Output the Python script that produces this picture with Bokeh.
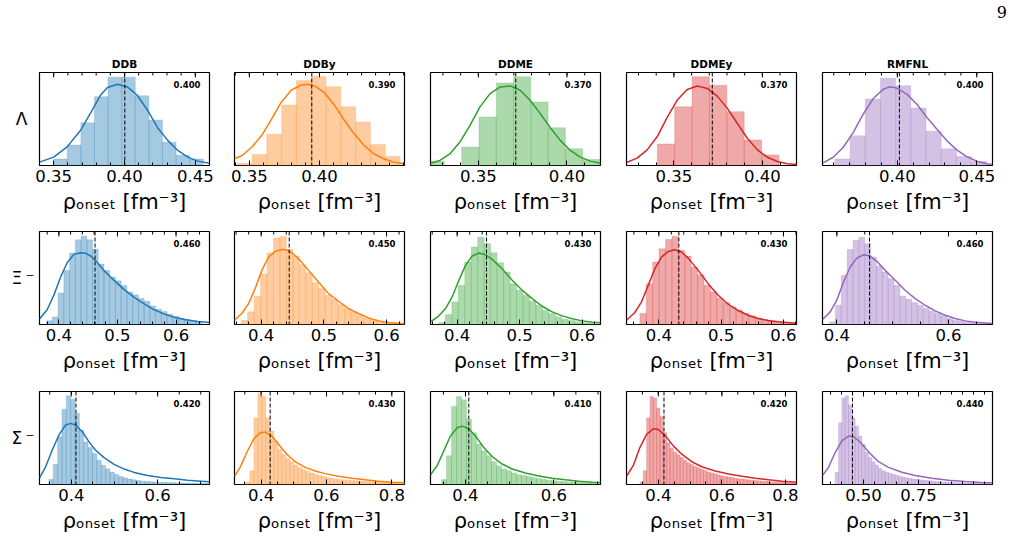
import numpy as np
from bokeh.plotting import figure
from bokeh.layouts import row, column
from bokeh.models import (Div, FixedTicker, Range1d, Span, Label, PrintfTickFormatter)
from bokeh.embed import file_html
from bokeh.resources import INLINE

# ---------------- data ----------------
models = ["DDB", "DDBy", "DDME", "DDMEy", "RMFNL"]
hyperons = ["Λ", "Ξ\u2009⁻", "Σ\u2009⁻"]
colors = ["#1f77b4", "#ff7f0e", "#2ca02c", "#d62728", "#9467bd"]

# axis limits
lam_xlim = [(0.340, 0.460), (0.3394, 0.4606), (0.323, 0.4189), (0.3232, 0.4193), (0.3529, 0.4599)]
xi_xlim = [(0.3669, 0.6571), (0.3574, 0.6287), (0.3573, 0.6293), (0.3481, 0.6209), (0.3743, 0.6788)]
sig_xlim = [(0.3264, 0.7202), (0.3184, 0.8388), (0.3208, 0.7057), (0.300, 0.8347), (0.3136, 1.0864)]

# tick values and formats
lam_ticks = [[0.35, 0.40, 0.45], [0.35, 0.40], [0.35, 0.40], [0.35, 0.40], [0.40, 0.45]]
xi_ticks = [[0.4, 0.5, 0.6], [0.4, 0.5, 0.6], [0.4, 0.5, 0.6], [0.4, 0.5, 0.6], [0.4, 0.6]]
sig_ticks = [[0.4, 0.6], [0.4, 0.6, 0.8], [0.4, 0.6], [0.4, 0.6, 0.8], [0.50, 0.75]]
lam_fmt = ["%.2f"] * 5
xi_fmt = ["%.1f"] * 5
sig_fmt = ["%.1f", "%.1f", "%.1f", "%.1f", "%.2f"]
lam_minor = [0.01] * 5
xi_minor = [0.02, 0.02, 0.02, 0.02, 0.05]
sig_minor = [0.05, 0.05, 0.05, 0.05, 0.05]

# medians (dashed lines) and printed values
lam_median = [0.4002, 0.3945, 0.3711, 0.3717, 0.4013]
xi_median = [0.4617, 0.4447, 0.4469, 0.4321, 0.4585]
sig_median = [0.4109, 0.4276, 0.4075, 0.4179, 0.4500]
lam_text = ["0.400", "0.390", "0.370", "0.370", "0.400"]
xi_text = ["0.460", "0.450", "0.430", "0.430", "0.460"]
sig_text = ["0.420", "0.430", "0.410", "0.420", "0.440"]

# histogram bins: first edge and width
lam_bin_start = [0.350, 0.3413, 0.3211, 0.3406, 0.3607]
lam_bin_width = [0.0096, 0.01056, 0.00975, 0.00983, 0.00956]
xi_bin_start = [0.379, 0.3681, 0.3707, 0.3695, 0.3869]
xi_bin_width = [0.0098, 0.0103, 0.01035, 0.0103, 0.0105]
sig_bin_start = [0.3481, 0.3531, 0.3457, 0.3421, 0.3712]
sig_bin_width = [0.0101, 0.01224, 0.01132, 0.01053, 0.01515]

# histogram heights (relative)
lam_ddb_h = [0.07, 0.22, 0.46, 0.74, 0.95, 0.95, 0.75, 0.49, 0.25, 0.11, 0.07]
lam_ddby_h = [0.025, 0.119, 0.336, 0.65, 0.913, 0.957, 0.848, 0.632, 0.469, 0.227, 0.097]
lam_ddme_h = [0.047, 0.0, 0.198, 0.522, 0.888, 0.953, 0.683, 0.406, 0.18, 0.065]
lam_ddmey_h = [0.232, 0.632, 0.954, 0.864, 0.579, 0.275, 0.114]
lam_rmfnl_h = [0.071, 0.321, 0.714, 0.939, 0.857, 0.618, 0.368, 0.179, 0.096, 0.043]

xi_ddb_h = [0.04, 0.08, 0.34, 0.58, 0.77, 0.91, 0.95, 0.91, 0.81, 0.65, 0.58, 0.51, 0.47, 0.42,
            0.35, 0.32, 0.28, 0.25, 0.20, 0.165, 0.14, 0.11, 0.09, 0.07, 0.05, 0.04, 0.03]
xi_ddby_h = [0.046, 0.136, 0.304, 0.546, 0.771, 0.929, 0.946, 0.807, 0.736, 0.643, 0.557, 0.45,
             0.386, 0.314, 0.271, 0.214, 0.171, 0.136, 0.1, 0.071, 0.054, 0.036, 0.021, 0.014, 0.007]
xi_ddme_h = [0.021, 0.107, 0.243, 0.421, 0.671, 0.832, 0.939, 0.868, 0.771, 0.664, 0.564, 0.439,
             0.368, 0.314, 0.25, 0.207, 0.154, 0.118, 0.082, 0.057, 0.043, 0.029, 0.018, 0.011]
xi_ddmey_h = [0.118, 0.439, 0.671, 0.814, 0.914, 0.946, 0.796, 0.736, 0.618, 0.536, 0.421, 0.35,
              0.286, 0.236, 0.189, 0.154, 0.118, 0.093, 0.071, 0.054, 0.039, 0.029, 0.021, 0.014]
xi_rmfnl_h = [0.029, 0.207, 0.529, 0.807, 0.904, 0.939, 0.868, 0.725, 0.629, 0.564, 0.493, 0.421,
              0.307, 0.271, 0.236, 0.207, 0.171, 0.143, 0.118, 0.093, 0.064, 0.046, 0.036, 0.025,
              0.018, 0.014, 0.011]

sig_ddb_h = [0.054, 0.217, 0.513, 0.809, 0.953, 0.917, 0.765, 0.585, 0.458, 0.397, 0.332, 0.26,
             0.206, 0.17, 0.134, 0.108, 0.087, 0.072, 0.058, 0.051, 0.043, 0.036, 0.032, 0.029,
             0.027, 0.025, 0.023, 0.021, 0.02, 0.018, 0.017, 0.015, 0.014, 0.013, 0.012, 0.011, 0.01]
sig_ddby_h = [0.025, 0.149, 0.716, 0.982, 0.947, 0.716, 0.574, 0.468, 0.379, 0.326, 0.28, 0.245,
              0.209, 0.184, 0.16, 0.142, 0.124, 0.11, 0.096, 0.085, 0.074, 0.067, 0.06, 0.053,
              0.05, 0.047, 0.044, 0.041, 0.038, 0.035, 0.032, 0.03, 0.027, 0.025, 0.022, 0.02,
              0.018, 0.016, 0.014, 0.012]
sig_ddme_h = [0.053, 0.309, 0.84, 0.947, 0.911, 0.699, 0.557, 0.433, 0.362, 0.309, 0.245, 0.202,
              0.167, 0.149, 0.124, 0.106, 0.096, 0.085, 0.074, 0.064, 0.053, 0.046, 0.04, 0.036,
              0.032, 0.028, 0.025, 0.021, 0.018, 0.016, 0.014, 0.012]
sig_ddmey_h = [0.025, 0.149, 0.716, 0.947, 0.929, 0.82, 0.73, 0.56, 0.45, 0.39, 0.35, 0.32, 0.29,
               0.26, 0.235, 0.215, 0.195, 0.18, 0.165, 0.15, 0.135, 0.125, 0.115, 0.105, 0.095,
               0.088, 0.08, 0.074, 0.068, 0.062, 0.058, 0.054, 0.05, 0.046, 0.043, 0.04, 0.037,
               0.034, 0.031, 0.028, 0.026, 0.024, 0.022, 0.02, 0.018, 0.016, 0.014]
sig_rmfnl_h = [0.131, 0.663, 0.929, 0.954, 0.858, 0.716, 0.628, 0.521, 0.433, 0.344, 0.291, 0.245,
               0.209, 0.174, 0.149, 0.135, 0.12, 0.11, 0.1, 0.09, 0.08, 0.073, 0.066, 0.06, 0.055,
               0.05, 0.046, 0.042, 0.039, 0.036, 0.033, 0.03, 0.028, 0.026, 0.024, 0.022, 0.02,
               0.018, 0.017, 0.016, 0.015, 0.014, 0.013, 0.012, 0.011, 0.01, 0.009]

# KDE curves
lam_ddb_kx = [0.340, 0.350, 0.3595, 0.369, 0.3785, 0.383, 0.388, 0.395, 0.402, 0.409, 0.4163,
              0.4234, 0.4305, 0.4376, 0.4447, 0.4518, 0.460]
lam_ddb_ky = [0.036, 0.09, 0.2, 0.378, 0.63, 0.755, 0.838, 0.874, 0.845, 0.755, 0.594, 0.406,
              0.27, 0.162, 0.09, 0.047, 0.025]
lam_ddby_kx = [0.3394, 0.3448, 0.3519, 0.3589, 0.366, 0.373, 0.380, 0.3871, 0.3918, 0.3965,
               0.4035, 0.4106, 0.4176, 0.4246, 0.4317, 0.4387, 0.4458, 0.4528, 0.4605]
lam_ddby_ky = [0.072, 0.108, 0.199, 0.325, 0.505, 0.686, 0.812, 0.866, 0.874, 0.856, 0.783, 0.65,
               0.487, 0.343, 0.217, 0.126, 0.072, 0.036, 0.018]
lam_ddme_kx = [0.3230, 0.3283, 0.3340, 0.3396, 0.3453, 0.3509, 0.3566, 0.3623, 0.3679, 0.3736,
               0.3792, 0.3849, 0.3906, 0.3962, 0.4019, 0.4075, 0.4132, 0.4189]
lam_ddme_ky = [0.025, 0.054, 0.126, 0.252, 0.432, 0.63, 0.773, 0.845, 0.856, 0.809, 0.701, 0.558,
               0.406, 0.27, 0.162, 0.09, 0.047, 0.025]
lam_ddmey_kx = [0.3232, 0.3292, 0.3349, 0.3406, 0.3462, 0.3519, 0.3575, 0.3632, 0.3689, 0.3745,
                0.3802, 0.3858, 0.3915, 0.3972, 0.4028, 0.4085, 0.4142, 0.4193]
lam_ddmey_ky = [0.032, 0.079, 0.168, 0.311, 0.518, 0.704, 0.818, 0.854, 0.829, 0.746, 0.614,
                0.454, 0.293, 0.168, 0.089, 0.043, 0.018, 0.011]
lam_rmfnl_kx = [0.3530, 0.3597, 0.3660, 0.3723, 0.3786, 0.3849, 0.3912, 0.3954, 0.3996, 0.4059,
                0.4122, 0.4185, 0.4248, 0.4311, 0.4374, 0.4437, 0.4500, 0.4563, 0.4599]
lam_rmfnl_ky = [0.025, 0.089, 0.196, 0.357, 0.554, 0.721, 0.821, 0.846, 0.832, 0.768, 0.661,
                0.518, 0.393, 0.268, 0.168, 0.096, 0.046, 0.018, 0.011]

xi_ddb_kx = [0.3669, 0.38, 0.3914, 0.4029, 0.4143, 0.4257, 0.4371, 0.4457, 0.4543, 0.4657, 0.4771,
             0.4943, 0.5114, 0.5286, 0.5457, 0.5629, 0.58, 0.5971, 0.6143, 0.6371, 0.6571]
xi_ddb_ky = [0.06, 0.158, 0.316, 0.509, 0.667, 0.754, 0.772, 0.765, 0.737, 0.667, 0.579, 0.474,
             0.375, 0.291, 0.221, 0.158, 0.112, 0.077, 0.053, 0.032, 0.021]
xi_ddby_kx = [0.3574, 0.3691, 0.3798, 0.3904, 0.4011, 0.4117, 0.4223, 0.433, 0.441, 0.4489, 0.4596,
              0.4755, 0.4915, 0.5074, 0.5234, 0.5394, 0.5553, 0.5713, 0.5872, 0.6032, 0.6287]
xi_ddby_ky = [0.046, 0.118, 0.225, 0.386, 0.582, 0.725, 0.786, 0.807, 0.8, 0.771, 0.707, 0.582,
              0.457, 0.332, 0.25, 0.171, 0.118, 0.071, 0.039, 0.021, 0.007]
xi_ddme_kx = [0.3573, 0.3707, 0.3813, 0.392, 0.4027, 0.4133, 0.424, 0.4347, 0.4453, 0.456, 0.472,
              0.488, 0.504, 0.52, 0.536, 0.552, 0.568, 0.584, 0.6, 0.616, 0.6293]
xi_ddme_ky = [0.029, 0.093, 0.171, 0.296, 0.475, 0.636, 0.736, 0.768, 0.75, 0.7, 0.6, 0.475,
              0.368, 0.279, 0.196, 0.136, 0.093, 0.061, 0.039, 0.025, 0.018]
xi_ddmey_kx = [0.3481, 0.3615, 0.3722, 0.3829, 0.3936, 0.4043, 0.415, 0.4257, 0.4364, 0.4471,
               0.4631, 0.4791, 0.4952, 0.5112, 0.5273, 0.5433, 0.5594, 0.5754, 0.5914, 0.6209]
xi_ddmey_ky = [0.046, 0.129, 0.243, 0.421, 0.6, 0.725, 0.786, 0.804, 0.779, 0.714, 0.582, 0.439,
               0.314, 0.218, 0.15, 0.1, 0.064, 0.043, 0.029, 0.014]
xi_rmfnl_kx = [0.3743, 0.3881, 0.4, 0.4119, 0.4239, 0.4358, 0.4478, 0.4597, 0.4716, 0.4866,
               0.5045, 0.5224, 0.5403, 0.5582, 0.5761, 0.594, 0.6119, 0.6299, 0.6478, 0.6788]
xi_rmfnl_ky = [0.054, 0.136, 0.261, 0.457, 0.618, 0.714, 0.75, 0.736, 0.679, 0.582, 0.475, 0.368,
               0.279, 0.207, 0.146, 0.1, 0.064, 0.039, 0.025, 0.011]

sig_ddb_kx = [0.3264, 0.3403, 0.3558, 0.3713, 0.3868, 0.3984, 0.4101, 0.4256, 0.4411, 0.4566,
              0.476, 0.4992, 0.5225, 0.5457, 0.5767, 0.6078, 0.6388, 0.6698, 0.7008, 0.7202]
sig_ddb_ky = [0.072, 0.188, 0.368, 0.531, 0.639, 0.657, 0.639, 0.567, 0.458, 0.368, 0.289, 0.217,
              0.166, 0.13, 0.097, 0.076, 0.061, 0.047, 0.036, 0.029]
sig_ddby_kx = [0.3184, 0.3357, 0.3561, 0.3765, 0.3969, 0.4122, 0.4327, 0.4531, 0.4786, 0.5041,
               0.5347, 0.5653, 0.5959, 0.6367, 0.6776, 0.7184, 0.7592, 0.8, 0.8388]
sig_ddby_ky = [0.089, 0.184, 0.344, 0.486, 0.557, 0.564, 0.521, 0.433, 0.326, 0.245, 0.184, 0.145,
               0.117, 0.089, 0.067, 0.05, 0.035, 0.025, 0.018]
sig_ddme_kx = [0.3208, 0.3358, 0.3509, 0.366, 0.3811, 0.3925, 0.4075, 0.4226, 0.4415, 0.4604,
               0.483, 0.5057, 0.5358, 0.566, 0.5962, 0.6264, 0.6566, 0.6868, 0.7057]
sig_ddme_ky = [0.103, 0.202, 0.362, 0.521, 0.61, 0.628, 0.599, 0.521, 0.397, 0.301, 0.22, 0.167,
               0.124, 0.092, 0.067, 0.05, 0.035, 0.025, 0.021]
sig_ddmey_kx = [0.300, 0.3211, 0.3421, 0.3632, 0.3842, 0.400, 0.4211, 0.4474, 0.4737, 0.5053,
                0.5368, 0.5789, 0.6211, 0.6632, 0.7053, 0.7474, 0.7895, 0.8347]
sig_ddmey_ky = [0.089, 0.202, 0.397, 0.539, 0.599, 0.592, 0.528, 0.415, 0.326, 0.245, 0.191,
                0.145, 0.113, 0.089, 0.067, 0.05, 0.035, 0.025]
sig_rmfnl_kx = [0.3136, 0.3409, 0.3712, 0.4015, 0.4318, 0.4545, 0.4848, 0.5227, 0.5682, 0.6136,
                0.6742, 0.7348, 0.8106, 0.8864, 0.9621, 1.0379, 1.0864]
sig_rmfnl_ky = [0.096, 0.184, 0.344, 0.468, 0.521, 0.514, 0.457, 0.351, 0.245, 0.184, 0.131,
                0.096, 0.067, 0.046, 0.032, 0.021, 0.018]

# ---------------- assembly ----------------
rows_data = [
    dict(xlim=lam_xlim, ticks=lam_ticks, fmt=lam_fmt, minor=lam_minor, med=lam_median,
         txt=lam_text, b0=lam_bin_start, bw=lam_bin_width,
         h=[lam_ddb_h, lam_ddby_h, lam_ddme_h, lam_ddmey_h, lam_rmfnl_h],
         kx=[lam_ddb_kx, lam_ddby_kx, lam_ddme_kx, lam_ddmey_kx, lam_rmfnl_kx],
         ky=[lam_ddb_ky, lam_ddby_ky, lam_ddme_ky, lam_ddmey_ky, lam_rmfnl_ky]),
    dict(xlim=xi_xlim, ticks=xi_ticks, fmt=xi_fmt, minor=xi_minor, med=xi_median,
         txt=xi_text, b0=xi_bin_start, bw=xi_bin_width,
         h=[xi_ddb_h, xi_ddby_h, xi_ddme_h, xi_ddmey_h, xi_rmfnl_h],
         kx=[xi_ddb_kx, xi_ddby_kx, xi_ddme_kx, xi_ddmey_kx, xi_rmfnl_kx],
         ky=[xi_ddb_ky, xi_ddby_ky, xi_ddme_ky, xi_ddmey_ky, xi_rmfnl_ky]),
    dict(xlim=sig_xlim, ticks=sig_ticks, fmt=sig_fmt, minor=sig_minor, med=sig_median,
         txt=sig_text, b0=sig_bin_start, bw=sig_bin_width,
         h=[sig_ddb_h, sig_ddby_h, sig_ddme_h, sig_ddmey_h, sig_rmfnl_h],
         kx=[sig_ddb_kx, sig_ddby_kx, sig_ddme_kx, sig_ddmey_kx, sig_rmfnl_kx],
         ky=[sig_ddb_ky, sig_ddby_ky, sig_ddme_ky, sig_ddmey_ky, sig_rmfnl_ky]),
]

FRAME_W, FRAME_H = 170, 93
col_left = [39, 20, 22, 22, 22]
col_right = [5, 4, 4, 4, 23]
row_top = [42, 8, 8]
row_bottom = [58, 59, 55]
row_label_standoff = [12, 5, 5]
FONT = "DejaVu Sans"
XLABEL = "ρₒₙₛₑₜ [fm⁻³]"
MAJOR_LEN, MINOR_LEN = 5, 3


def make_panel(r, c):
    d = rows_data[r]
    lo, hi = d["xlim"][c]
    color = colors[c]
    kwargs = dict(frame_width=FRAME_W, frame_height=FRAME_H,
                  x_range=Range1d(lo, hi), y_range=Range1d(0, 1),
                  output_backend="svg", toolbar_location=None, tools="",
                  min_border_left=col_left[c], min_border_right=col_right[c],
                  min_border_top=row_top[r], min_border_bottom=row_bottom[r])
    if c != 0:
        kwargs["y_axis_location"] = None
    kwargs["title"] = models[c] if r == 0 else None
    p = figure(**kwargs)
    p.background_fill_color = "white"
    p.border_fill_color = "white"
    p.outline_line_color = "black"
    p.outline_line_width = 1.2
    p.xgrid.visible = False
    p.ygrid.visible = False

    step = d["minor"][c]
    minor = [float(v) for v in np.round(np.arange(np.ceil(lo / step) * step, hi, step), 4)]
    majors = d["ticks"][c]

    xa = p.xaxis[0]
    xa.ticker = FixedTicker(ticks=majors, minor_ticks=minor)
    xa.formatter = PrintfTickFormatter(format=d["fmt"][c])
    xa.axis_line_color = None
    xa.major_tick_in = MAJOR_LEN
    xa.major_tick_out = 0
    xa.minor_tick_in = MINOR_LEN
    xa.minor_tick_out = 0
    xa.major_tick_line_color = "black"
    xa.minor_tick_line_color = "black"
    xa.major_label_text_font = FONT
    xa.major_label_text_font_size = "16.5px"
    xa.major_label_text_color = "black"
    xa.major_label_standoff = 4
    xa.axis_label = XLABEL
    xa.axis_label_text_font = FONT
    xa.axis_label_text_font_size = "21px"
    xa.axis_label_text_font_style = "normal"
    xa.axis_label_text_color = "black"
    xa.axis_label_standoff = 5

    # inward ticks mirrored on the top spine
    ymaj = 1 - MAJOR_LEN / FRAME_H
    ymin = 1 - MINOR_LEN / FRAME_H
    p.segment(x0=majors, y0=[1.0] * len(majors), x1=majors, y1=[ymaj] * len(majors),
              line_color="black", line_width=1)
    p.segment(x0=minor, y0=[1.0] * len(minor), x1=minor, y1=[ymin] * len(minor),
              line_color="black", line_width=1)

    if c == 0:
        ya = p.yaxis[0]
        ya.ticker = FixedTicker(ticks=[])
        ya.axis_line_color = None
        ya.major_tick_in = 0
        ya.major_tick_out = 0
        ya.minor_tick_in = 0
        ya.minor_tick_out = 0
        ya.major_label_standoff = 0
        ya.axis_label = hyperons[r]
        ya.axis_label_orientation = "horizontal"
        ya.axis_label_text_font = FONT
        ya.axis_label_text_font_size = "17px"
        ya.axis_label_text_font_style = "normal"
        ya.axis_label_text_color = "black"
        ya.axis_label_standoff = row_label_standoff[r]

    if r == 0:
        p.title.text_font = FONT
        p.title.text_font_size = "10.5px"
        p.title.text_font_style = "bold"
        p.title.align = "center"
        p.title.text_color = "black"
        if "standoff" in p.title.properties():
            p.title.standoff = 6

    hts = d["h"][c]
    b0, bw = d["b0"][c], d["bw"][c]
    left = [b0 + i * bw for i in range(len(hts)) if hts[i] > 0]
    right = [b0 + (i + 1) * bw for i in range(len(hts)) if hts[i] > 0]
    tops = [h for h in hts if h > 0]
    p.quad(left=left, right=right, bottom=0, top=tops, fill_color=color, fill_alpha=0.4,
           line_color=color, line_alpha=0.3, line_width=0.6)
    p.line(d["kx"][c], d["ky"][c], line_color=color, line_width=1.5)
    p.add_layout(Span(location=d["med"][c], dimension="height", line_color="black",
                      line_width=1, line_dash="4 2"))
    p.add_layout(Label(x=hi, y=1.0, x_offset=-9, y_offset=-8, text=d["txt"][c],
                       text_font=FONT, text_font_size="8.5px", text_font_style="bold",
                       text_align="right", text_baseline="top", text_color="black"))
    return p


page_num = Div(text="9", width=1015, height=30, margin=(0, 0, 0, 0),
               styles={"text-align": "right", "font-family": "'DejaVu Serif', serif",
                       "font-size": "16px", "padding-right": "8px", "padding-top": "5px",
                       "box-sizing": "border-box", "color": "black", "line-height": "1"})

grid_rows = [row(*[make_panel(r, c) for c in range(5)], spacing=0) for r in range(3)]
layout = column(page_num, *grid_rows, spacing=0)

open("out.html", "w").write(file_html(layout, INLINE))
